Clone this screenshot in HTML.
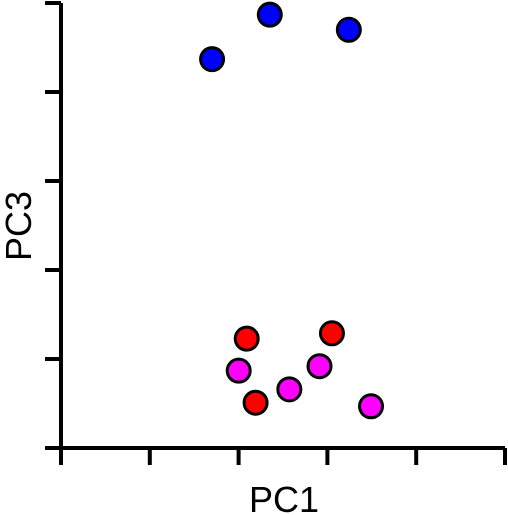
<!DOCTYPE html>
<html><head><meta charset="utf-8"><style>html,body{margin:0;padding:0;background:#fff;}svg{display:block;}</style></head>
<body>
<svg id="chart" width="508" height="515" viewBox="0 0 508 515" xmlns="http://www.w3.org/2000/svg">
<g id="axes"></g>
<g id="points"></g>
<text x="284" y="512" font-family="Liberation Sans, sans-serif" font-size="36" text-anchor="middle" fill="#000">PC1</text>
<text transform="translate(31,226) rotate(-90)" font-family="Liberation Sans, sans-serif" font-size="36" text-anchor="middle" fill="#000">PC3</text>
</svg>
<script>
const blueX=[1.69,2.34,3.23];
const blueY=[4.38,4.88,4.71];
const redX=[2.08,3.04,2.18];
const redY=[1.24,1.30,0.52];
const magentaX=[1.99,2.56,2.90,3.48];
const magentaY=[0.88,0.67,0.93,0.48];
const xTicks=[0,1,2,3,4,5];
const yTicks=[0,1,2,3,4,5];
const NS="http://www.w3.org/2000/svg";
const x0=61,x1=505,y0=448,y1=3;
function sx(v){return x0+(x1-x0)*v/5;}
function sy(v){return y0-(y0-y1)*v/5;}
const axes=document.getElementById('axes');
function line(a,b,c,d,name){const l=document.createElementNS(NS,'line');l.setAttribute('x1',a);l.setAttribute('y1',b);l.setAttribute('x2',c);l.setAttribute('y2',d);l.setAttribute('stroke','#000');l.setAttribute('stroke-width','4');


axes.appendChild(l);}
line(x0,y1,x0,y0+2,'y-axis-line');
line(x0-2,y0,x1,y0,'x-axis-line');
xTicks.forEach(t=>line(sx(t),y0,sx(t),465,'x-tick'));
yTicks.forEach(t=>line(45,sy(t),x0,sy(t),'y-tick'));
const pts=document.getElementById('points');
function series(xs,ys,color,name){xs.forEach((v,i)=>{const c=document.createElementNS(NS,'circle');c.setAttribute('cx',sx(v)+1);c.setAttribute('cy',sy(ys[i])+1);c.setAttribute('r','11.5');c.setAttribute('fill',color);c.setAttribute('stroke','#000');c.setAttribute('stroke-width','3');


pts.appendChild(c);});}
series(blueX,blueY,'#0000ff','blue-point');
series(redX,redY,'#ff0000','red-point');
series(magentaX,magentaY,'#ff00ff','magenta-point');
</script>
</body></html>
